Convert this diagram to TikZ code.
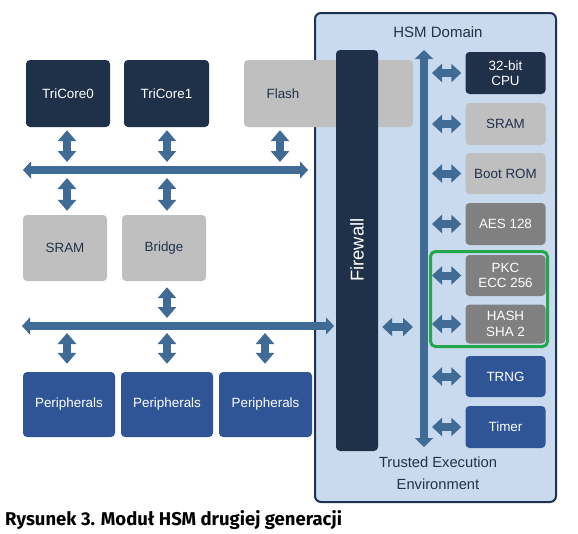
\documentclass[tikz,border=0pt]{standalone}
\usepackage{fontspec}
\setmainfont{Liberation Sans}
\newfontfamily\capfont{Fira Sans}
\usetikzlibrary{arrows.meta}
\definecolor{navy}{RGB}{31,48,73}
\definecolor{arrowc}{RGB}{64,107,148}
\definecolor{lgray}{RGB}{191,191,191}
\definecolor{dgray}{RGB}{128,128,128}
\definecolor{pblue}{RGB}{47,85,151}
\definecolor{hsmfill}{RGB}{201,218,238}
\definecolor{hsmborder}{RGB}{30,50,85}
\definecolor{greenc}{RGB}{34,168,74}
\definecolor{ltext}{RGB}{35,50,75}
\tikzset{
  box/.style={rounded corners=4pt, inner sep=0pt, align=center, font=\fontsize{13.4}{15.5}\selectfont},
  navybox/.style={box, fill=navy, text=white},
  lgbox/.style={box, fill=lgray, text=ltext},
  dgbox/.style={box, fill=dgray, text=white},
  bluebox/.style={box, fill=pblue, text=white},
  bus/.style={draw=arrowc, line width=8pt, {Triangle[length=8pt,width=17pt]}-{Triangle[length=8pt,width=17pt]}},
  vlink/.style={draw=arrowc, line width=8pt, {Triangle[length=11pt,width=18pt]}-{Triangle[length=11pt,width=18pt]}},
  hlink/.style={draw=arrowc, line width=8pt, {Triangle[length=10pt,width=18pt]}-{Triangle[length=10pt,width=18pt]}},
  plain/.style={inner sep=0pt}
}
\begin{document}
\begin{tikzpicture}[x=1pt,y=-1pt]
\useasboundingbox (0,0) rectangle (578,533);
\fill[white] (0,0) rectangle (578,533);
% HSM domain
\node[plain, draw=hsmborder, line width=2pt, fill=hsmfill, rounded corners=6pt, minimum width=241pt, minimum height=489pt] (hsm) at (435.5,257.5) {};
\node[plain, font=\fontsize{15}{17}\selectfont, text=ltext] (hsmt) at (438,32) {HSM Domain};
\node[plain, font=\fontsize{14.7}{22}\selectfont, text=ltext, align=center, anchor=north] (tee) at (438,457) {Trusted Execution\\Environment};
% left side boxes
\node[navybox, minimum width=84pt, minimum height=67pt] (tc0) at (68,93.5) {TriCore0};
\node[navybox, minimum width=85pt, minimum height=67pt] (tc1) at (166.5,93.5) {TriCore1};
\node[lgbox, minimum width=169pt, minimum height=67pt] (flash) at (328.5,93.5) {};
\node[plain, text=ltext, font=\fontsize{13.4}{15.5}\selectfont] (flasht) at (283,93.5) {Flash};
\node[lgbox, minimum width=84pt, minimum height=66pt] (sram) at (65,248) {SRAM};
\node[lgbox, minimum width=84pt, minimum height=66pt] (bridge) at (164,248) {Bridge};
\node[bluebox, minimum width=92pt, minimum height=65pt] (p1) at (69,404.5) {Peripherals};
\node[bluebox, minimum width=92pt, minimum height=65pt] (p2) at (167,404.5) {Peripherals};
\node[bluebox, minimum width=93pt, minimum height=65pt] (p3) at (265.5,404.5) {Peripherals};
% firewall
\node[navybox, minimum width=42pt, minimum height=401pt] (fw) at (357,250.5) {};
\node[plain, rotate=90, text=white, font=\fontsize{18.5}{20}\selectfont] (fwt) at (357,250) {Firewall};
% HSM right boxes
\node[navybox, minimum width=80pt, minimum height=42pt] (cpu) at (505.5,73) {32-bit\\CPU};
\node[lgbox, minimum width=80pt, minimum height=42pt] (hsram) at (505.5,124) {SRAM};
\node[lgbox, minimum width=80pt, minimum height=41pt] (brom) at (505.5,173.5) {Boot ROM};
\node[dgbox, minimum width=80pt, minimum height=42pt] (aes) at (505.5,224) {AES 128};
\node[dgbox, minimum width=80pt, minimum height=41pt] (pkc) at (505.5,275.5) {PKC\\ECC 256};
\node[dgbox, minimum width=80pt, minimum height=39pt] (hash) at (505.5,324) {HASH\\SHA 2};
\node[bluebox, minimum width=80pt, minimum height=41pt] (trng) at (505.5,376.5) {TRNG};
\node[bluebox, minimum width=80pt, minimum height=42pt] (timer) at (505.5,427) {Timer};
\node[plain, draw=greenc, line width=3pt, rounded corners=5pt, minimum width=117pt, minimum height=95pt] (grp) at (489,299) {};
% buses
\coordinate (bus1w) at (23,170);
\coordinate (bus1e) at (308,170);
\coordinate (bus2w) at (22,326);
\coordinate (bus2e) at (334,326);
\draw[bus] (bus1w) -- (bus1e);
\draw[bus] (bus2w) -- (bus2e);
\coordinate (vbn) at (424,50);
\coordinate (vbs) at (424,447);
\draw[draw=arrowc, line width=8pt, {Triangle[length=9pt,width=18pt]}-{Triangle[length=9pt,width=18pt]}] (vbn) -- (vbs);
% vertical links
\draw[vlink] ([yshift=-3pt]tc0.south -| 67,0) -- (67,162);
\draw[vlink] ([yshift=-3pt]tc1.south -| 167,0) -- (167,162);
\draw[vlink] ([yshift=-3pt]flash.south -| 280,0) -- (280,162);
\draw[vlink] (67,178) -- ([yshift=4pt]sram.north -| 67,0);
\draw[vlink] (167,178) -- ([yshift=4pt]bridge.north -| 167,0);
\draw[vlink] ([yshift=-6pt]bridge.south -| 167,0) -- (167,318);
\draw[vlink] (67,333) -- ([yshift=8pt]p1.north -| 67,0);
\draw[vlink] (167,333) -- ([yshift=8pt]p2.north -| 167,0);
\draw[vlink] (265,333) -- ([yshift=8pt]p3.north -| 265,0);
% horizontal links in HSM
\foreach \n in {cpu,hsram,brom,aes,pkc,hash,trng,timer}{
  \draw[hlink] (\n.west -| 432,0) -- ([xshift=-4pt]\n.west);
}
\draw[hlink] ([xshift=4pt]fw.east |- 0,327) -- (413,327);
% caption
\node[plain, anchor=base west, font=\capfont\bfseries\fontsize{18.5}{20}\selectfont] (cap) at (5,525) {Rysunek 3. Moduł HSM drugiej generacji};
\end{tikzpicture}
\end{document}
